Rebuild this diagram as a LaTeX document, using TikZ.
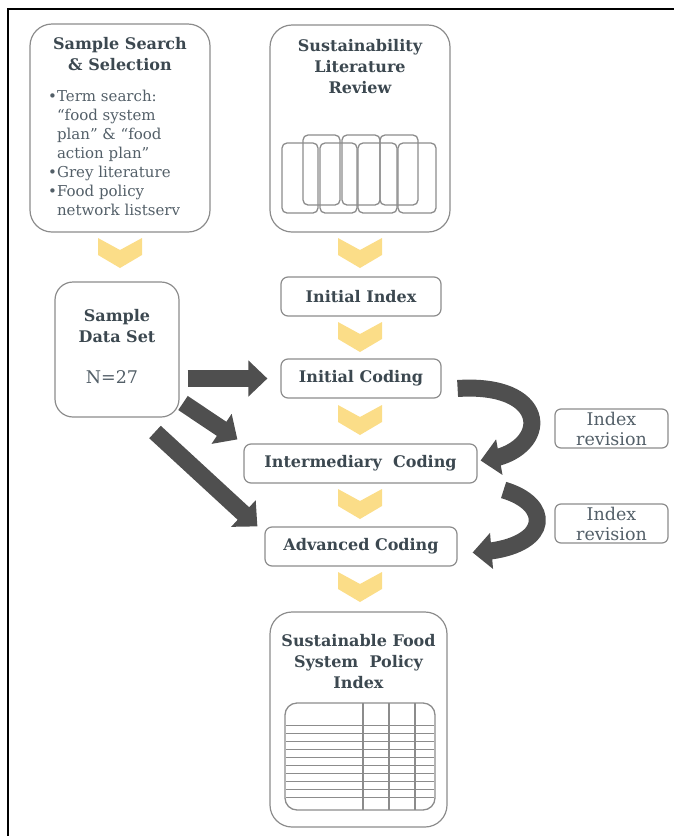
\documentclass[tikz,border=0pt]{standalone}
\usepackage{fontspec}
\setmainfont{DejaVu Serif}
\usetikzlibrary{arrows.meta,bending,positioning}
\definecolor{boxline}{HTML}{8C8C8C}
\definecolor{inkslate}{HTML}{3C4850}
\definecolor{inksoft}{HTML}{535F68}
\definecolor{chevgold}{HTML}{FBDD88}
\definecolor{arrowgrey}{HTML}{4F4F4F}
\tikzset{
  stagebox/.style={draw=boxline, line width=1.2pt, rounded corners=7pt, text=inkslate,
    font=\bfseries\fontsize{16}{19}\selectfont, inner sep=0pt, minimum height=39pt},
  bigbox/.style={draw=boxline, line width=1.2pt, rounded corners=22pt, inner sep=0pt},
  titletext/.style={text=inkslate, font=\bfseries\fontsize{16}{21}\selectfont, align=center, inner sep=0pt},
  plaintext/.style={text=inksoft, font=\fontsize{15}{19}\selectfont, inner sep=0pt},
  notebox/.style={draw=boxline, line width=1.2pt, rounded corners=6pt, text=inksoft,
    font=\fontsize{17.5}{20}\selectfont, align=center, inner sep=0pt,
    minimum width=113pt, minimum height=39pt},
  bookline/.style={draw=boxline, line width=1.3pt, rounded corners=5pt},
  bigarrow/.style={draw=arrowgrey, line width=17pt, -{Triangle[width=35pt,length=19pt]}},
}
\newcommand{\chevron}[2]{% centre x, top y
  \fill[chevgold] (#1-22,#2) -- (#1,#2+12) -- (#1+22,#2) -- (#1+22,#2+17)
    -- (#1,#2+30) -- (#1-22,#2+17) -- cycle;
}
\begin{document}
\begin{tikzpicture}[x=1pt,y=-1pt]
\useasboundingbox (0,0) rectangle (674,836);
% frame
\draw[line width=1.5pt] (8,836) -- (8,9) -- (674,9);

% left column
\node[bigbox, minimum width=180pt, minimum height=208pt] (search) at (120,128) {};
\node[titletext, below=14pt of search.north] (searchtitle) {Sample Search\\\& Selection};
\node[plaintext, align=left, anchor=north west] (searchlist) at (48,90) {%
  \textbullet Term search:\\
  \hphantom{\textbullet}“food system\\
  \hphantom{\textbullet}plan” \& “food\\
  \hphantom{\textbullet}action plan”\\
  \textbullet Grey literature\\
  \textbullet Food policy\\
  \hphantom{\textbullet}network listserv};
\chevron{120}{238}
\node[bigbox, rounded corners=18pt, minimum width=124pt, minimum height=135pt] (dataset) at (117,349.5) {};
\node[titletext, anchor=north] (datasettitle) at (117,309) {Sample\\Data Set};
\node[plaintext, font=\fontsize{17.5}{19}\selectfont] (samplesize) at (112,377) {N=27};

% right column
\node[bigbox, minimum width=180pt, minimum height=207pt] (litreview) at (360,128.5) {};
\node[titletext, below=15pt of litreview.north] (littitle) {Sustainability\\Literature\\Review};
\foreach \xa/\xb in {282/318,320/357,358/397,398/436}
  \draw[bookline] (\xa,143) rectangle (\xb,213);
\foreach \xa/\xb in {303/340,342/380,380/418}
  \draw[bookline] (\xa,135) rectangle (\xb,205);
\chevron{360}{238}
\node[stagebox, minimum width=160pt] (initindex) at (361,296.5) {Initial Index};
\chevron{360}{322}
\node[stagebox, minimum width=160pt] (initcoding) at (361,378.5) {Initial Coding};
\chevron{360}{405}
\node[stagebox, minimum width=233pt] (intercoding) at (360.5,463.5) {Intermediary~~Coding};
\chevron{360}{489}
\node[stagebox, minimum width=192pt] (advcoding) at (361,546.5) {Advanced Coding};
\chevron{360}{572}
\node[bigbox, minimum width=177pt, minimum height=215pt] (policyindex) at (358.5,719.5) {};
\node[titletext, below=23pt of policyindex.north] (indextitle) {Sustainable Food\\System~~Policy\\Index};
\draw[bookline, rounded corners=12pt] (285,703) rectangle (435,810);
\foreach \xv in {363,389,415}
  \draw[boxline, line width=1.2pt] (\xv,703) -- (\xv,810);
\foreach \yv in {725,733,741,749,757,765,773,781,789,797}
  \draw[boxline, line width=0.9pt] (286,\yv) -- (434,\yv);

% revision notes
\node[notebox] (revisionA) at (611.5,428.5) {Index\\revision};
\node[notebox] (revisionB) at (611.5,523.5) {Index\\revision};

% block arrows
\coordinate (dsTailA) at (183,403);
\coordinate (dsTailB) at (155,432);
\draw[bigarrow, shorten <=8pt, shorten >=13pt] (dataset.east |- initcoding.west) -- (initcoding.west);
\draw[bigarrow] (dsTailA) -- ([xshift=-6pt,yshift=4pt]intercoding.north west);
\draw[bigarrow] (dsTailB) -- ([xshift=-7pt]advcoding.north west);
\draw[bigarrow] ([xshift=16pt,yshift=-10pt]initcoding.east)
  .. controls (555,382) and (550,455) .. ([xshift=3pt,yshift=3pt]intercoding.east);
\draw[bigarrow] ([xshift=26pt,yshift=-26.5pt]intercoding.east)
  .. controls (555,505) and (550,550) .. ([xshift=15pt,yshift=-6pt]advcoding.east);
\end{tikzpicture}
\end{document}
